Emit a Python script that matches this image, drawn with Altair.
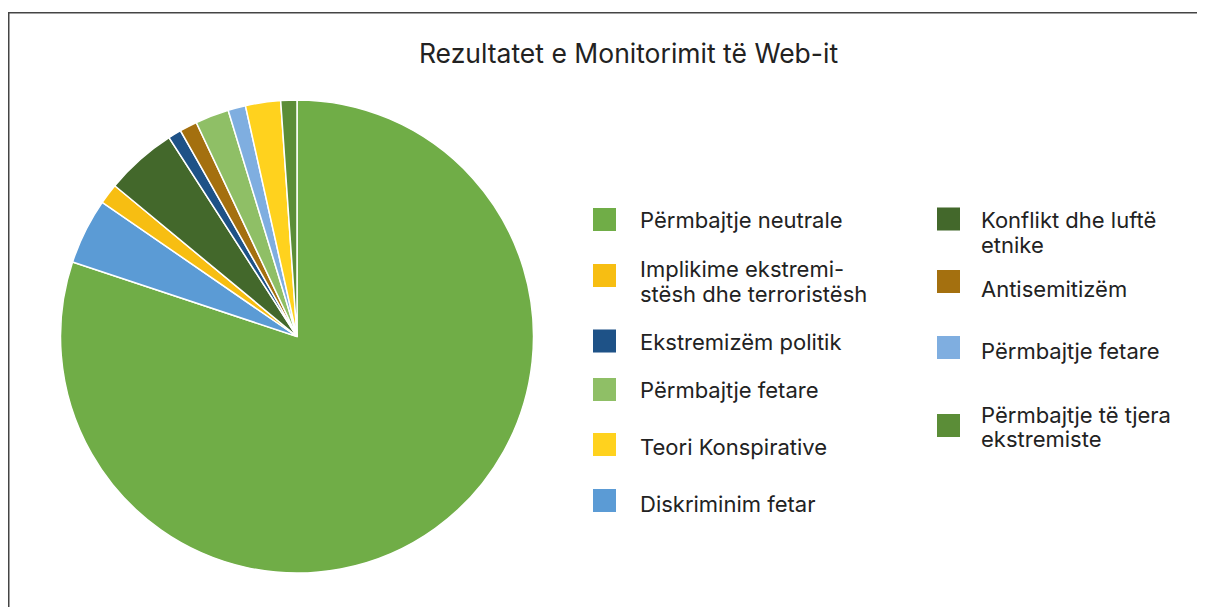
import altair as alt
import pandas as pd

title_text = "Rezultatet e Monitorimit të Web-it"

# Pie slices, clockwise from 12 o'clock (percent)
slice_keys = ["neutrale", "diskriminim", "implikime", "konflikt", "politik",
              "antisemitizem", "fetare_a", "fetare_b", "teori", "tjera"]
slice_values = [80.1, 4.5, 1.4, 4.9, 0.9, 1.2, 2.3, 1.2, 2.4, 1.1]
slice_colors = ["#70AD47", "#5B9BD5", "#F7BE12", "#43682B", "#1E5287",
                "#A4700F", "#8FBF66", "#7FAEE0", "#FFD21E", "#5B8D37"]

# Legend entries (two columns, as in the reference)
legend_keys = ["neutrale", "implikime", "politik", "fetare_a", "teori", "diskriminim",
               "konflikt", "antisemitizem", "fetare_b", "tjera"]
legend_labels = ["Përmbajtje neutrale",
                 "Implikime ekstremi-\nstësh dhe terroristësh",
                 "Ekstremizëm politik",
                 "Përmbajtje fetare",
                 "Teori Konspirative",
                 "Diskriminim fetar",
                 "Konflikt dhe luftë\netnike",
                 "Antisemitizëm",
                 "Përmbajtje fetare",
                 "Përmbajtje të tjera\nekstremiste"]

# legend layout (pixels)
legend_sq_x = [596.5] * 6 + [940.5] * 4
legend_sq_y = [211.5, 267.5, 333, 381.5, 436.5, 492.5, 211, 273.5, 339.5, 417.5]
legend_tx_x = [632] * 6 + [973] * 4
legend_tx_y = [220.3, 269.3, 341.5, 389.5, 446.5, 503.5, 220.3, 288.7, 350.5, 414.5]

FONT = "Inter"
W, H = 1189, 599

pie_df = pd.DataFrame({"key": slice_keys, "value": slice_values,
                       "idx": list(range(len(slice_keys)))})
leg_df = pd.DataFrame({"key": legend_keys, "label": legend_labels,
                       "sx": legend_sq_x, "sy": legend_sq_y,
                       "tx": legend_tx_x, "ty": legend_tx_y})
one = pd.DataFrame({"t": [title_text]})

color = alt.Color("key:N", scale=alt.Scale(domain=slice_keys, range=slice_colors), legend=None)

frame = alt.Chart(one).mark_rect(fillOpacity=0, stroke="#444444", strokeWidth=1.5).encode(
    x=alt.value(0.75), x2=alt.value(1500), y=alt.value(4.75), y2=alt.value(1200))

title = alt.Chart(one).mark_text(font=FONT, fontSize=26.5, color="#222222", align="center",
                                 baseline="alphabetic").encode(
    text="t:N", x=alt.value(620.5), y=alt.value(55))

pie = alt.Chart(pie_df).mark_arc(outerRadius=236.5, stroke="white", strokeWidth=1.5).encode(
    theta=alt.Theta("value:Q", stack=True),
    order=alt.Order("idx:Q"),
    color=color,
    x=alt.value(289), y=alt.value(328.5),
    tooltip=["key:N", "value:Q"])

squares = alt.Chart(leg_df).mark_square(size=530, opacity=1).encode(
    x=alt.X("sx:Q", scale=None), y=alt.Y("sy:Q", scale=None), color=color)

labels = alt.Chart(leg_df).mark_text(font=FONT, fontSize=22, color="#222222", align="left",
                                     baseline="alphabetic", lineBreak="\n", lineHeight=24.5).encode(
    x=alt.X("tx:Q", scale=None), y=alt.Y("ty:Q", scale=None), text="label:N")

chart = alt.layer(frame, pie, squares, labels, title).properties(
    width=W, height=H, padding=0, autosize=alt.AutoSizeParams(type="none")
).configure_view(stroke=None)

chart.save("out.html", embed_options={"renderer": "svg", "actions": False})
